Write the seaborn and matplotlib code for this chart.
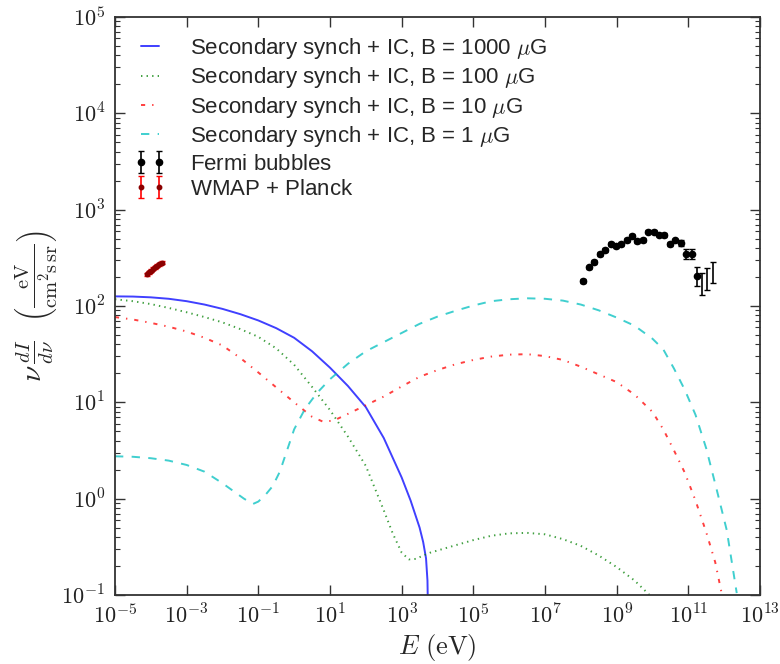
import numpy as np
import pandas as pd
import matplotlib
matplotlib.use("Agg")
import matplotlib.pyplot as plt
from matplotlib.ticker import FuncFormatter, LogLocator, NullLocator
import seaborn as sns

# Secondary synchrotron + IC spectra: log10(E/eV) -> log10(nu dI/dnu)
logE_b1000 = [-5.0, -4.5, -4.0, -3.5, -3.0, -2.5, -2.0, -1.5, -1.0, -0.5, 0.0, 0.5, 1.0, 1.5,
              2.0, 2.5, 3.0, 3.25, 3.5, 3.6, 3.68, 3.72, 3.74]
logI_b1000 = [2.100, 2.098, 2.090, 2.075, 2.050, 2.015, 1.970, 1.915, 1.850, 1.770, 1.670, 1.530, 1.360, 1.170,
              0.950, 0.630, 0.220, -0.020, -0.300, -0.450, -0.620, -0.850, -1.300]

logE_b100 = [-5.0, -4.5, -4.0, -3.5, -3.0, -2.5, -2.0, -1.5, -1.0, -0.5, 0.0, 0.5, 1.0, 1.5, 2.0,
             2.5, 2.75, 3.0, 3.2, 3.4, 3.6, 3.8, 4.35, 5.0, 5.5, 6.0, 6.5, 7.0, 7.5, 8.0, 8.5,
             9.0, 9.5, 10.0]
logI_b100 = [2.07, 2.05, 2.02, 1.98, 1.935, 1.885, 1.83, 1.76, 1.68, 1.56, 1.39, 1.16, 0.92, 0.645, 0.34,
             -0.12, -0.36, -0.56, -0.63, -0.625, -0.59, -0.56, -0.50, -0.43, -0.385, -0.36, -0.355, -0.37,
             -0.42, -0.49, -0.59, -0.71, -0.85, -1.03]

logE_b10 = [-5.0, -4.5, -4.0, -3.5, -3.0, -2.5, -2.0, -1.5, -1.0, -0.5, 0.0, 0.5, 0.8, 1.1, 1.5, 2.0,
            2.5, 3.0, 3.5, 4.0, 4.5, 5.0, 5.5, 6.0, 6.5, 7.0, 7.5, 8.0, 8.5, 9.0, 9.5, 10.0, 10.3,
            10.6, 10.9, 11.2, 11.5, 11.75, 11.95]
logI_b10 = [1.885, 1.86, 1.825, 1.785, 1.735, 1.67, 1.59, 1.46, 1.31, 1.155, 1.0, 0.85, 0.80, 0.81, 0.88,
            0.97, 1.06, 1.165, 1.265, 1.335, 1.395, 1.44, 1.475, 1.495, 1.50, 1.48, 1.44, 1.37, 1.29,
            1.21, 1.08, 0.90, 0.72, 0.50, 0.27, -0.02, -0.35, -0.66, -1.02]

logE_b1 = [-5.0, -4.5, -4.0, -3.5, -3.0, -2.5, -2.0, -1.7, -1.4, -1.15, -1.0, -0.8, -0.6, -0.4, -0.2,
           0.0, 0.3, 0.63, 1.0, 1.5, 2.0, 2.5, 3.0, 3.5, 4.0, 4.5, 5.0, 5.5, 6.0, 6.5, 7.0, 7.5,
           8.0, 8.5, 9.0, 9.5, 10.0, 10.3, 10.6, 10.9, 11.2, 11.5, 11.8, 12.07, 12.35]
logI_b1 = [0.44, 0.435, 0.42, 0.395, 0.35, 0.28, 0.16, 0.08, 0.0, -0.055, -0.03, 0.04, 0.13, 0.28, 0.50,
           0.72, 0.93, 1.094, 1.24, 1.40, 1.53, 1.625, 1.72, 1.815, 1.89, 1.95, 2.005, 2.05, 2.07, 2.08,
           2.075, 2.056, 2.015, 1.955, 1.88, 1.795, 1.66, 1.55, 1.35, 1.13, 0.87, 0.52, 0.08, -0.325, -0.98]

# Fermi bubbles data
fermi_logE = [8.07, 8.23, 8.38, 8.54, 8.68, 8.83, 8.98, 9.13, 9.28, 9.43, 9.58, 9.73, 9.88, 10.03,
              10.17, 10.32, 10.49, 10.64, 10.79, 10.94, 11.09, 11.23]
fermi_logI = [2.26, 2.40, 2.46, 2.54, 2.58, 2.64, 2.62, 2.645, 2.686, 2.728, 2.672, 2.686, 2.773, 2.773,
              2.742, 2.738, 2.64, 2.68, 2.65, 2.538, 2.538, 2.31]
fermi_err = [0.02, 0.02, 0.02, 0.02, 0.02, 0.02, 0.02, 0.02, 0.02, 0.02, 0.02, 0.02, 0.02, 0.02,
             0.02, 0.02, 0.02, 0.02, 0.03, 0.05, 0.05, 0.10]
# highest-energy Fermi bins (bars only)
fermi_hi_logE = [11.38, 11.53, 11.70]
fermi_hi_lo = [2.114, 2.167, 2.24]
fermi_hi_up = [2.34, 2.39, 2.46]

# WMAP + Planck haze
wmap_logE = [-4.12, -4.06, -4.00, -3.94, -3.88, -3.82, -3.76, -3.70]
wmap_logI = [2.33, 2.35, 2.365, 2.385, 2.40, 2.42, 2.435, 2.45]
wmap_err = [0.015, 0.015, 0.015, 0.015, 0.015, 0.015, 0.015, 0.015]

xtick_exp = [-5, -3, -1, 1, 3, 5, 7, 9, 11, 13]

labels = [r"Secondary synch + IC, B = 1000 $\mu$G",
          r"Secondary synch + IC, B = 100 $\mu$G",
          r"Secondary synch + IC, B = 10 $\mu$G",
          r"Secondary synch + IC, B = 1 $\mu$G"]

sns.set_style("ticks")
plt.rcParams["font.family"] = ["Liberation Sans", "DejaVu Sans"]
plt.rcParams["mathtext.fontset"] = "cm"
plt.rcParams["lines.scale_dashes"] = False

fig = plt.figure(figsize=(7.8, 6.64), dpi=100)
ax = fig.add_axes([0.1474, 0.1039, 0.8270, 0.8705])
ax.set_xscale("log")
ax.set_yscale("log")

curves = [
    (logE_b1000, logI_b1000, "b", None),
    (logE_b100, logI_b100, "g", (1, 3)),
    (logE_b10, logI_b10, "r", (3, 5, 1, 5)),
    (logE_b1, logI_b1, "c", (6, 6)),
]
for (lx, ly, col, dsh), lab in zip(curves, labels):
    df = pd.DataFrame({"E": 10.0 ** np.array(lx), "I": 10.0 ** np.array(ly)})
    kw = dict(data=df, x="E", y="I", color=col, lw=1.4, alpha=0.75, label=lab, ax=ax, sort=False)
    if dsh is not None:
        kw["dashes"] = dsh
    sns.lineplot(**kw)

# Fermi bubbles
fE = 10.0 ** np.array(fermi_logE)
fI = 10.0 ** np.array(fermi_logI)
ferr = np.array(fermi_err)
f_lo = fI - 10.0 ** (np.array(fermi_logI) - ferr)
f_hi = 10.0 ** (np.array(fermi_logI) + ferr) - fI
ax.errorbar(fE, fI, yerr=[f_lo, f_hi], fmt="o", color="k", ms=4.5, capsize=2.0,
            elinewidth=1.2, label=r"Fermi bubbles$\,$")
hE = 10.0 ** np.array(fermi_hi_logE)
hlo = 10.0 ** np.array(fermi_hi_lo)
hup = 10.0 ** np.array(fermi_hi_up)
hmid = np.sqrt(hlo * hup)
ax.errorbar(hE, hmid, yerr=[hmid - hlo, hup - hmid], fmt="none", ecolor="k",
            capsize=2.0, elinewidth=1.2)

# WMAP + Planck
wE = 10.0 ** np.array(wmap_logE)
wI = 10.0 ** np.array(wmap_logI)
werr = np.array(wmap_err)
ax.errorbar(wE, wI, yerr=[wI - 10.0 ** (np.array(wmap_logI) - werr), 10.0 ** (np.array(wmap_logI) + werr) - wI],
            fmt="o", color="darkred", ecolor="r", ms=3.2, capsize=2.5, elinewidth=1.2,
            label=r"WMAP + Planck$\,$")

ax.set_xlim(1e-5, 1e13)
ax.set_ylim(1e-1, 1e5)
pow10 = FuncFormatter(lambda v, pos: r"$10^{%d}$" % int(round(np.log10(v))))
ax.set_xticks([10.0 ** e for e in xtick_exp])
ax.xaxis.set_major_formatter(pow10)
ax.xaxis.set_minor_locator(NullLocator())
ax.yaxis.set_major_locator(LogLocator(base=10, numticks=20))
ax.yaxis.set_minor_locator(LogLocator(base=10, subs=np.arange(2, 10), numticks=20))
ax.yaxis.set_major_formatter(pow10)

ax.tick_params(which="both", direction="in", top=True, right=True, colors="#333333",
               labelcolor="#222222")
ax.tick_params(which="major", length=7, width=1.0, labelsize=16, pad=7)
ax.tick_params(which="minor", length=3.5, width=0.8)
for s in ax.spines.values():
    s.set_linewidth(1.3)
    s.set_color("#333333")

ax.set_xlabel(r"$E\ (\mathrm{eV})$", fontsize=19, labelpad=2)
ax.set_ylabel(r"$\nu\,\frac{dI}{d\nu}\ \ \left(\frac{\mathrm{eV}}{\mathrm{cm^2s\,sr}}\right)$",
              fontsize=21, labelpad=2)

ax.legend(loc="upper left", frameon=False, numpoints=2, fontsize=16,
          handlelength=1.45, handletextpad=1.06, labelspacing=0.2,
          bbox_to_anchor=(0.0, 1.0), borderaxespad=0.45)

fig.savefig("out.png", dpi=100)
